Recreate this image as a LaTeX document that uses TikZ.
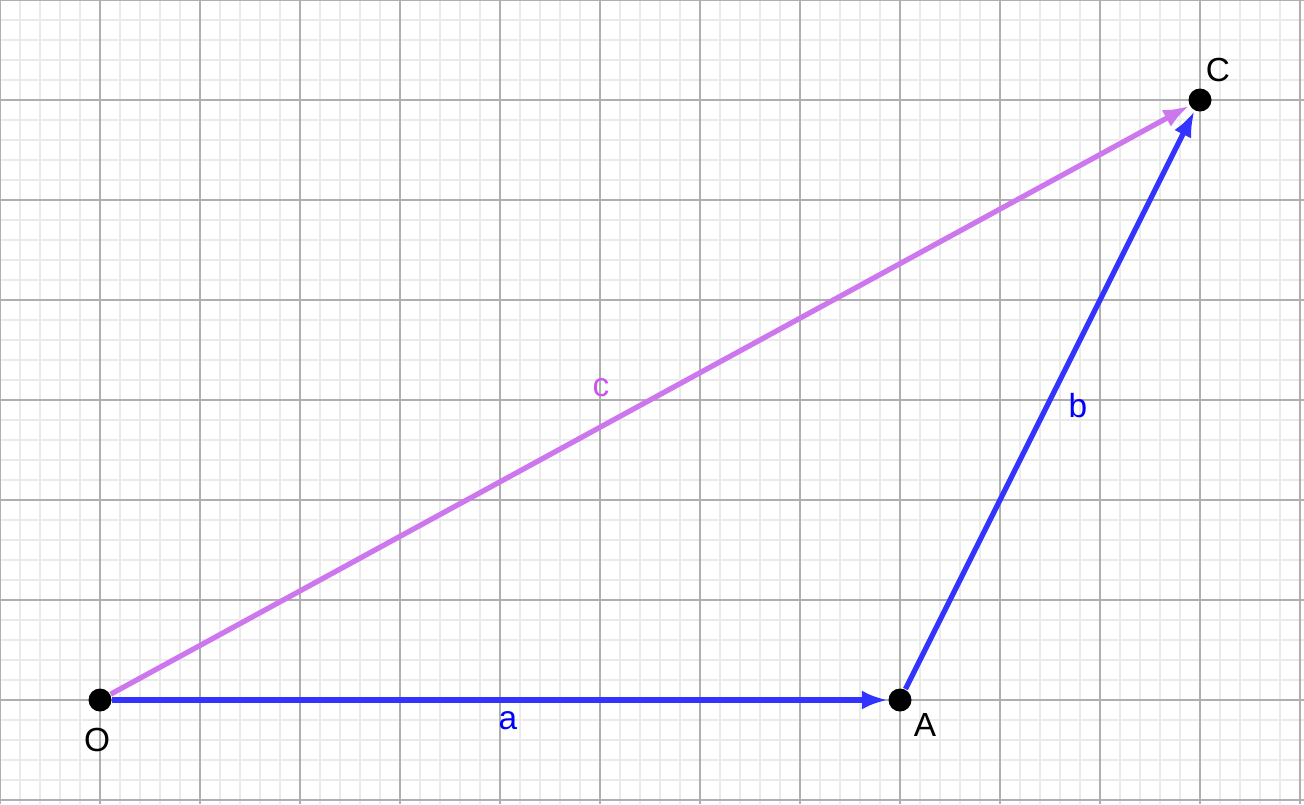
\documentclass[tikz,border=0pt]{standalone}
\usepackage{fontspec}
\setmainfont{Liberation Sans}
\usetikzlibrary{arrows.meta}
\definecolor{vecblue}{RGB}{51,51,255}
\definecolor{vecpurple}{RGB}{204,119,238}
\definecolor{lblpurple}{RGB}{204,85,238}
\definecolor{minorgrid}{RGB}{234,234,234}
\definecolor{majorgrid}{RGB}{175,175,175}
\begin{document}
\begin{tikzpicture}[pt/.style={circle, fill=black, inner sep=0pt, minimum size=0.23cm},
    vec/.style={line width=1.5pt, -{Latex[length=0.26cm, width=0.19cm]}},
    lbl/.style={font=\fontsize{9.5}{10}\selectfont, inner sep=0pt}]
    \useasboundingbox (-1,-1.04) rectangle (12.04,7);
    \draw[minorgrid, line width=0.4pt] (-1,-1.04) grid[step=0.2] (12.04,7);
    \draw[majorgrid, line width=0.5pt] (-1,-1.04) grid[step=1] (12.04,7);
    \node[pt] (O) at (0,0) {};
    \node[pt] (A) at (8,0) {};
    \node[pt] (C) at (11,6) {};
    \draw[vec, vecpurple] (O) -- (C);
    \draw[vec, vecblue] (O) -- (A);
    \draw[vec, vecblue] (A) -- (C);
    \node[lbl] (lO) at (-0.03,-0.4) {O};
    \node[lbl] (lA) at (8.25,-0.25) {A};
    \node[lbl] (lC) at (11.18,6.3) {C};
    \node[lbl, blue] (la) at (4.08,-0.21) {a};
    \node[lbl, blue] (lb) at (9.78,2.94) {b};
    \node[lbl, lblpurple] (lc) at (5.01,3.12) {c};
  \end{tikzpicture}
\end{document}
